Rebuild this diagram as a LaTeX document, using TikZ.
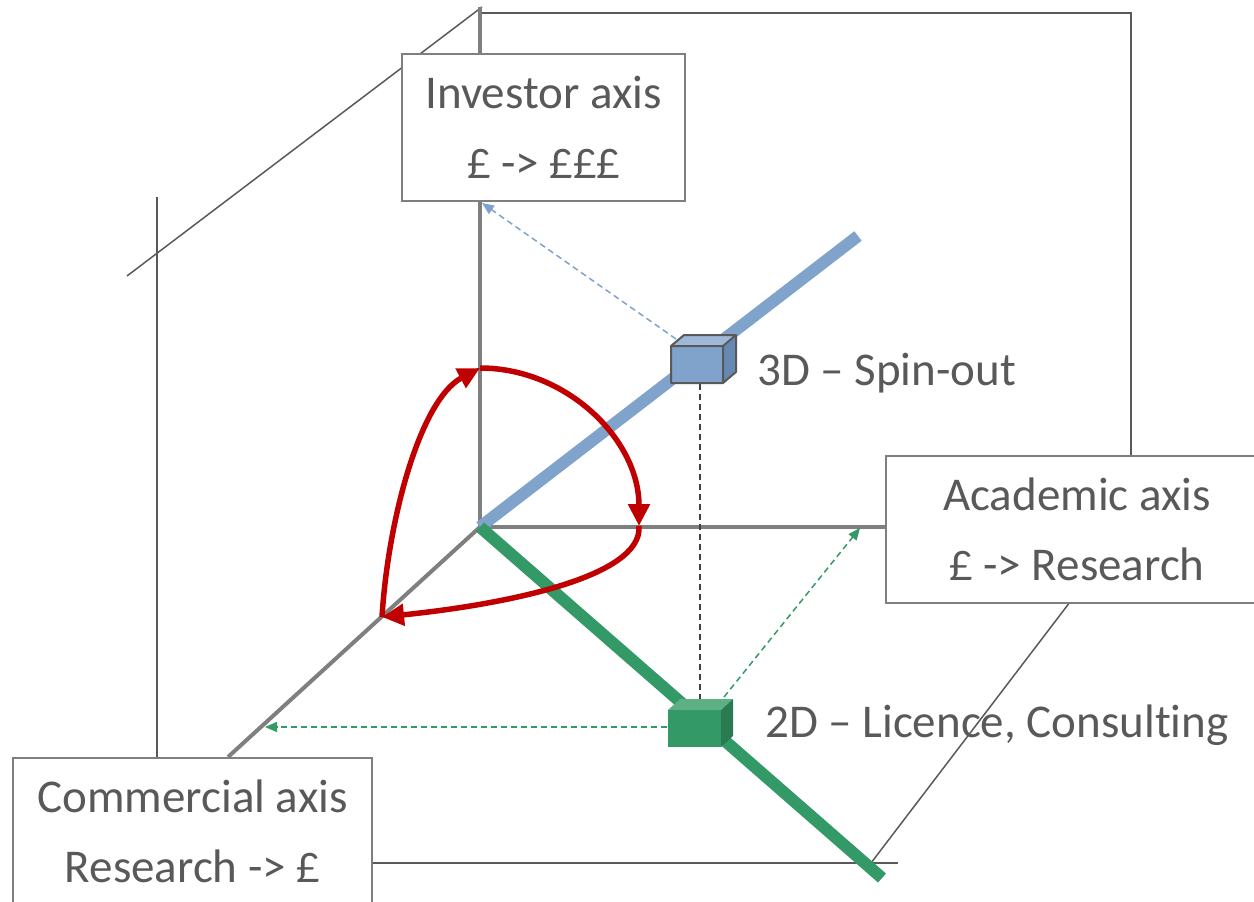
\documentclass[tikz,border=0pt]{standalone}
\usepackage{fontspec}
\setmainfont{Carlito}[Ligatures=NoCommon]
\newfontfamily\poundfont{Lato}[Scale=0.86]
\newcommand\pnd{{\poundfont £}}
\usetikzlibrary{arrows.meta}
\definecolor{axisgray}{HTML}{7F7F7F}
\definecolor{thingray}{HTML}{595959}
\definecolor{txtgray}{HTML}{595959}
\definecolor{dashgray}{HTML}{404040}
\definecolor{blueline}{HTML}{7FA3CB}
\definecolor{bluetop}{HTML}{9DB8D8}
\definecolor{blueside}{HTML}{6589B3}
\definecolor{greenline}{HTML}{339966}
\definecolor{greentop}{HTML}{5CB083}
\definecolor{greenside}{HTML}{2A7B51}
\definecolor{redarc}{HTML}{C00000}
\tikzset{
  thinline/.style={draw=thingray,line width=1.5pt},
  axisline/.style={draw=axisgray,line width=4pt},
  labelbox/.style={draw=axisgray,line width=2pt,fill=white,inner sep=0pt,align=center,
    text=txtgray,font=\fontsize{47}{70}\selectfont},
  plainlabel/.style={inner sep=0pt,text=txtgray,font=\fontsize{47}{56}\selectfont,anchor=base west},
  redarrow/.style={draw=redarc,line width=5.5pt,-{Triangle[length=22pt,width=21pt]}},
  dashedarrow/.style={line width=1.5pt,dash pattern=on 6pt off 4pt,-{Triangle[length=12pt,width=10pt]}},
}
\begin{document}
\begin{tikzpicture}[x=1pt,y=-1pt]
\useasboundingbox (0,0) rectangle (1254,902);
\clip (0,0) rectangle (1254,902);
% named points
\coordinate (O) at (480,527);
\coordinate (vtop) at (480,7);
\coordinate (hend) at (886,527);
\coordinate (dend) at (228,757);
\coordinate (tl1) at (127,276);
\coordinate (tl2) at (482,7);
\coordinate (vl1) at (157,197);
\coordinate (vl2) at (157,757);
\coordinate (tr1) at (482,13);
\coordinate (tr2) at (1131,13);
\coordinate (tr3) at (1131,455);
\coordinate (br1) at (1070,602);
\coordinate (br2) at (871,863);
\coordinate (bl1) at (372,863);
\coordinate (bl2) at (898,863);
\coordinate (blueend) at (858,236);
\coordinate (greenend) at (882,878);
% thin frame lines
\draw[thinline] (tl1) -- (tl2);
\draw[thinline] (vl1) -- (vl2);
\draw[thinline] (tr1) -- (tr2) -- (tr3);
\draw[thinline] (br1) -- (br2);
\draw[thinline] (bl1) -- (bl2);
% grey axes
\draw[axisline] (O) -- (vtop);
\draw[axisline] (O) -- (hend);
\draw[axisline] (O) -- (dend);
% boxes
\node[labelbox,minimum width=283pt,minimum height=147pt] (inv) at (543.5,127) {Investor axis\\\pnd{} -> \pnd\pnd\pnd};
\node[labelbox,minimum width=382pt,minimum height=147pt] (acad) at (1077,529) {Academic axis\\\pnd{} -> Research};
\node[labelbox,minimum width=359pt,minimum height=147pt] (comm) at (192.5,831) {Commercial axis\\Research -> \pnd};
% coloured axes
\draw[blueline,line width=12pt] (O) -- (blueend);
\draw[greenline,line width=12pt] (O) -- (greenend);
% dashed guides
\coordinate (bcb) at (700,384);
\coordinate (gct) at (700,699);
\draw[dashgray,line width=1.5pt,dash pattern=on 6pt off 4pt] (bcb) -- (gct);
\coordinate (bc1) at (676,339);
\coordinate (bt1) at (482,203);
\draw[dashedarrow,blueline] (bc1) -- (bt1);
\coordinate (gc1) at (724,697);
\coordinate (gt1) at (860,528);
\draw[dashedarrow,greenline] (gc1) -- (gt1);
\coordinate (gc2) at (667,727);
\coordinate (gt2) at (265,727);
\draw[dashedarrow,greenline] (gc2) -- (gt2);
% blue cube
\fill[bluetop] (671,346) -- (684,335) -- (736,335) -- (723,346) -- cycle;
\fill[blueside] (723,346) -- (736,335) -- (736,372) -- (723,383) -- cycle;
\fill[blueline] (671,346) rectangle (723,383);
\draw[thingray,line width=2pt,line join=round] (671,346) -- (684,335) -- (736,335) -- (736,372) -- (723,383) -- (671,383) -- cycle (671,346) -- (723,346) -- (736,335) (723,346) -- (723,383);
% green cube
\fill[greentop] (668,710) -- (680,699) -- (733,699) -- (721,710) -- cycle;
\fill[greenside] (721,710) -- (733,699) -- (733,736) -- (721,747) -- cycle;
\fill[greenline] (668,710) rectangle (721,747);
% red arcs
\coordinate (rtop) at (480,368);
\coordinate (rright) at (639,526);
\coordinate (rleft) at (382,617);
\draw[redarrow] (rtop) .. controls (567,368) and (639,440) .. (rright);
\draw[redarrow] (rright) .. controls (643,578) and (500,605) .. (rleft);
\draw[redarrow] (rleft) .. controls (388,520) and (420,400) .. (rtop);
% labels
\node[plainlabel] (spin) at (757,385) {3D – Spin-out};
\node[plainlabel] (lic) at (765,737) {2D – Licence, Consulting};
\end{tikzpicture}
\end{document}
